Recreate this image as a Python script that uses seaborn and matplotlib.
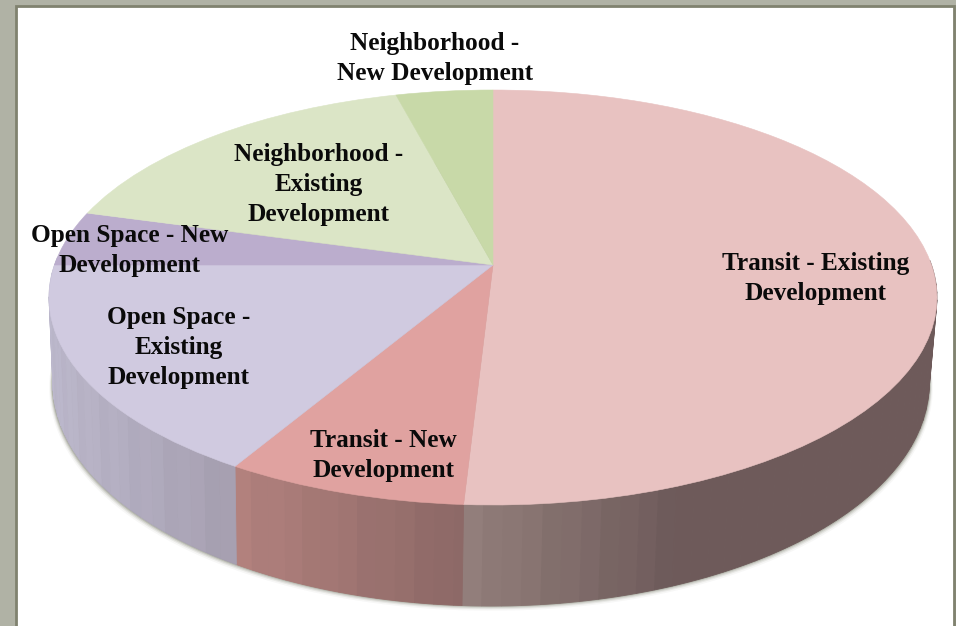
import numpy as np
import matplotlib
matplotlib.use("Agg")
import matplotlib.pyplot as plt
import matplotlib.transforms as mtransforms
from matplotlib.patches import Rectangle
import seaborn as sns

# slices, clockwise from 12 o'clock
labels = ["Transit - Existing\nDevelopment", "Transit - New\nDevelopment",
          "Open Space -\nExisting\nDevelopment", "Open Space - New\nDevelopment",
          "Neighborhood -\nExisting\nDevelopment", "Neighborhood -\nNew Development"]
values = [50.9, 7.6, 16.5, 4.3, 16.6, 4.1]
top_colors = ["#e8c2c1", "#e0a2a0", "#d0cae0", "#bbadcd", "#dbe5c6", "#c8d9a8"]

# wall shade of every slice: colour at the left and right end of wall_x
wall_left = ["#94807c", "#b3827e", "#bcb8cc", "#bcb8cc", "#bcb8cc", "#94807c"]
wall_right = ["#6e5a5a", "#8c6866", "#a69fb0", "#a69fb0", "#a69fb0", "#6e5a5a"]
wall_x = [[465, 680], [236, 465], [50, 236], [50, 236], [50, 236], [465, 680]]

# where the labels sit in the picture
label_x = [815.5, 383.5, 179, 130, 319, 435]
label_y = [278.5, 455.5, 347.5, 250.5, 184.5, 58.5]

# pie centre and tilt in pixels
CX, CY = 493, 265
A, B, K = 438.5, 202.4, 0.1566


def project(x, y):
    w = 1 + K * y
    return CX + A * x / w, CY - B * y / w


def project_base(x, y):
    # the bottom of the disc, a bit lower and narrower
    px, py = project(x, y)
    return CX - 2 + (px - CX) * 0.987, 383 + (py - 297.5) * 1.075


class Tilt(mtransforms.Transform):
    input_dims = 2
    output_dims = 2

    def transform_non_affine(self, xy):
        xy = np.asarray(xy, dtype=float)
        return np.column_stack(project(xy[:, 0], xy[:, 1]))


sns.set_theme(style="white")
plt.rcParams["font.family"] = ["Liberation Serif", "DejaVu Serif"]

fig = plt.figure(figsize=(9.56, 6.26), dpi=100, facecolor="#b0b2a5")
ax = fig.add_axes([0, 0, 1, 1])

wedges, _ = ax.pie(values, colors=sns.color_palette(top_colors), startangle=90, counterclock=False,
                   wedgeprops={"linewidth": 0.4}, frame=False)
ax.set_aspect("auto")
ax.set_xlim(0, 956)
ax.set_ylim(626, 0)
ax.axis("off")

ax.add_patch(Rectangle((16, 6), 938, 640, facecolor="white", edgecolor="#80826f", linewidth=2, zorder=0))

# soft shadow under the wall
t = np.radians(np.arange(0, 361, 2))
for grow, alpha in zip([8, 6, 4.5, 3, 1.5], [0.06, 0.12, 0.18, 0.3, 0.45]):
    sx, sy = project_base(np.cos(t), np.sin(t))
    ax.fill(sx + np.sign(sx - CX) * grow * 0.45, sy + grow * 0.7 - 1, color="#7c7f70", alpha=alpha, lw=0, zorder=1)

# wall, drawn as narrow bands like the original gradient
for i, w in enumerate(wedges):
    low, high = sorted([w.theta1, w.theta2])
    edges = np.arange(low, high + 2.2, 2.2)
    edges[-1] = high
    for j in range(len(edges) - 1):
        if edges[j + 1] <= edges[j]:
            continue
        a = np.radians(np.linspace(edges[j], edges[j + 1], 5))
        if np.sin(a).mean() > 0.03:
            continue
        x1, y1 = project(np.cos(a), np.sin(a))
        x2, y2 = project_base(np.cos(a), np.sin(a))
        xs = np.r_[x1, x2[::-1]]
        ys = np.r_[y1, y2[::-1]]
        f = np.clip((x1.mean() - wall_x[i][0]) / (wall_x[i][1] - wall_x[i][0]), 0, 1)
        c = (1 - f) * np.array(matplotlib.colors.to_rgb(wall_left[i])) + f * np.array(matplotlib.colors.to_rgb(wall_right[i]))
        if j % 3 == 1 and f < 1:
            c = c * 0.985
        ax.fill(xs, ys, color=c, lw=0.6, zorder=2)

# top face of the disc
for w in wedges:
    w.set_transform(Tilt() + ax.transData)
    w.set_edgecolor(w.get_facecolor())
    w.set_zorder(3)

for lab, x, y in zip(labels, label_x, label_y):
    ax.text(x, y, lab, ha="center", va="center", fontsize=18.2, fontweight="bold", color="#0a0a0a",
            linespacing=1.4, zorder=5)

fig.savefig("out.png", dpi=100, facecolor=fig.get_facecolor())
